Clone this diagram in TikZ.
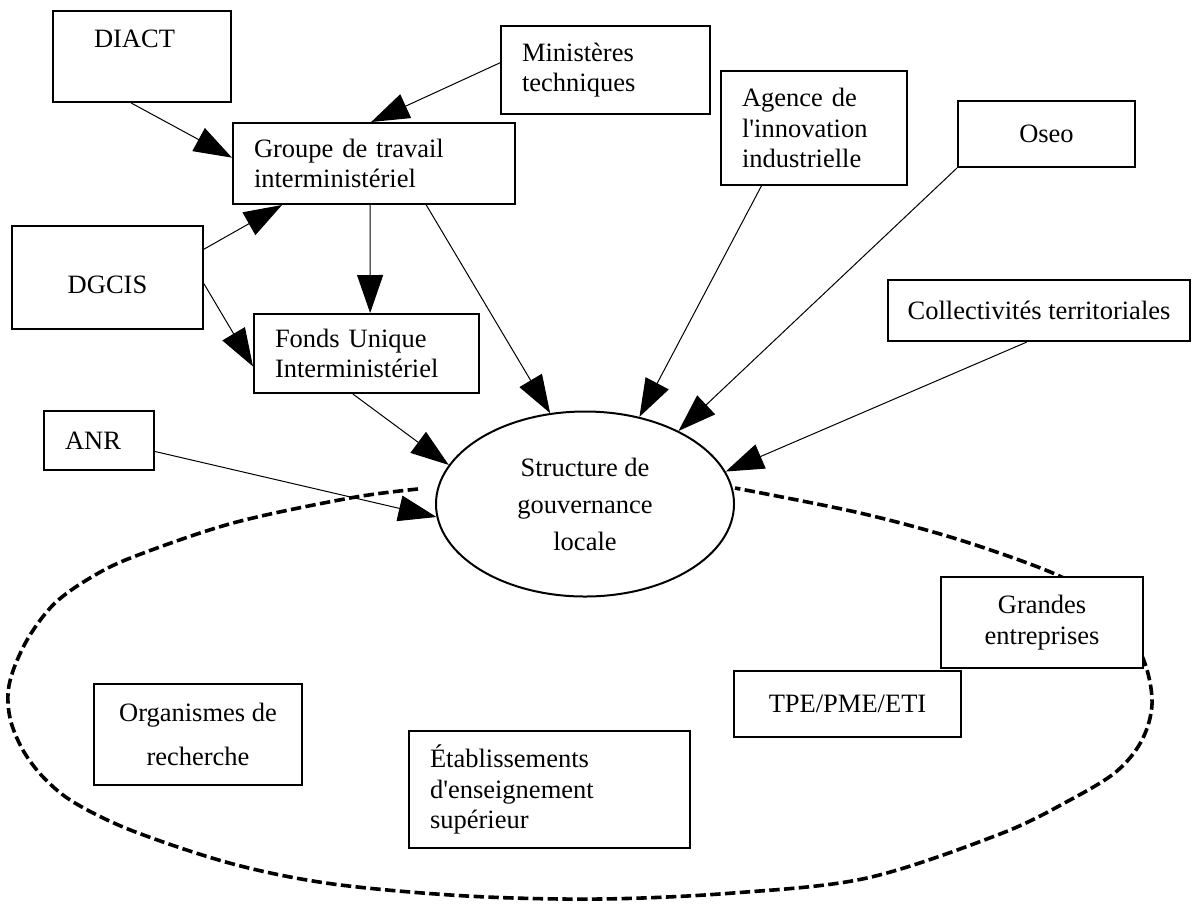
\documentclass[tikz,border=0pt]{standalone}
\usepackage{fontspec}
\setmainfont{Liberation Serif}[Ligatures=TeXOff]
\usetikzlibrary{calc,arrows.meta,shapes.geometric}

\tikzset{
	boite/.style={draw, line width=0.5mm, fill=white, anchor=north west, inner xsep=5.25mm, inner ysep=0pt, align=left},
	boitec/.style={draw, line width=0.5mm, fill=white, anchor=north west, inner sep=0pt, align=center},
	fleche/.style={line width=0.25mm, -{Triangle[length=9.5mm,width=6.5mm]}},
	pointille/.style={line width=0.9mm, dash pattern=on 2.6mm off 1.1mm}
}

\begin{document}
\begin{tikzpicture}[x=0.25mm, y=-0.25mm, font=\fontsize{18.85pt}{21.7pt}\selectfont]
			%%%%% START %%%%%
			\useasboundingbox (0,0) rectangle (1194,911);
			
			\draw[pointille] plot[smooth, tension=0.55] coordinates {(418,489) (350,498) (233,523) (133,557) (90,578) (55,603) (30,635) (14,668) (8,694) (11,722) (24,752) (45,779) (75,803) (133,831) (233,864) (333,884) (467,896) (600,899) (733,893) (867,878) (1000,834) (1070,800) (1117,771) (1143,738) (1152,698) (1138,648) (1095,600) (1055,574) (960,540) (860,513) (735,488)};
			
			\node[boite, text width=24mm, inner xsep=10.25mm, text height=9mm, text depth=13.75mm] (diact) at (52,10) {DIACT};
			\node[boite, text width=41.75mm, minimum height=22mm] (minist) at (500,25) {Ministères\\techniques};
			\node[boite, text width=60mm, minimum height=20.25mm] (groupe) at (232,122) {Groupe de travail\\interministériel};
			\node[boite, text width=36mm, minimum height=28.5mm] (agence) at (720,70) {Agence de\\l'innovation\\industrielle};
			\node[boitec, minimum width=44.25mm, minimum height=16.5mm] (oseo) at (957,100) {Oseo};
			\node[boitec, minimum width=47.75mm, text height=16.75mm, text depth=9mm] (dgcis) at (11,225) {DGCIS};
			\node[boite, text width=45.75mm, minimum height=19.75mm] (fonds) at (253,313) {Fonds Unique\\Interministériel};
			\node[boitec, minimum width=75.5mm, minimum height=15.25mm] (collect) at (887,279) {Collectivités territoriales};
			\node[boite, text width=17mm, minimum height=14.75mm] (anr) at (43,410) {ANR};
			
			\node[ellipse, draw, line width=0.5mm, fill=white, inner sep=0pt, minimum width=74.5mm, minimum height=46.25mm, align=center, font=\fontsize{18.85pt}{26.3pt}\selectfont] (struct) at (585,504) {Structure de\\gouvernance\\locale};
			
			\node[boitec, minimum width=50.5mm, minimum height=22.75mm] (grandes) at (940,576) {Grandes\\entreprises};
			\node[boitec, minimum width=56.75mm, minimum height=16.5mm] (tpe) at (733,670) {TPE/PME/ETI};
			\node[boitec, minimum width=52mm, minimum height=25.25mm, font=\fontsize{18.85pt}{31.3pt}\selectfont] (organ) at (93,683) {Organismes de\\recherche};
			\node[boite, text width=59.75mm, minimum height=29.25mm] (etab) at (408,730) {Établissements\\d'enseignement\\supérieur};
			
			\draw[fleche] ($(diact.south west)!0.44!(diact.south east)$) -- ($(groupe.north west)!0.43!(groupe.south west)$);
			\draw[fleche] ($(minist.north west)!0.42!(minist.south west)$) -- ($(groupe.north west)!0.49!(groupe.north east)$);
			\draw[fleche] ($(dgcis.north east)!0.23!(dgcis.south east)$) -- ($(groupe.south west)!0.176!(groupe.south east)$);
			\draw[fleche] ($(dgcis.north east)!0.56!(dgcis.south east)$) -- ($(fonds.north west)!0.66!(fonds.south west)$);
			\draw[fleche] ($(groupe.south west)!0.486!(groupe.south east)$) -- ($(fonds.north west)!0.516!(fonds.north east)$);
			\draw[fleche] ($(groupe.south west)!0.684!(groupe.south east)$) -- (struct.111.5);
			\draw[fleche] ($(fonds.south west)!0.44!(fonds.south east)$) -- (struct.164);
			\draw[fleche] ($(anr.north east)!0.68!(anr.south east)$) -- (struct.185.5);
			\draw[fleche] ($(agence.south west)!0.22!(agence.south east)$) -- (struct.58);
			\draw[fleche] (oseo.south west) -- (struct.38.4);
			\draw[fleche] ($(collect.south west)!0.46!(collect.south east)$) -- (struct.13);
			
			%%%%% END %%%%%
\end{tikzpicture}
\end{document}
